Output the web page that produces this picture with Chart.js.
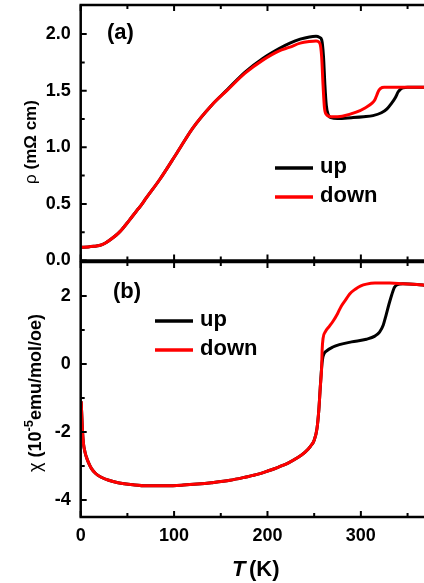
<!DOCTYPE html>
<html>
<head>
<meta charset="utf-8">
<script src="https://cdn.jsdelivr.net/npm/chart.js@4"></script>
<style>
  body { margin: 0; background: #fff; }
  #wrap { position: relative; width: 424px; height: 583px; overflow: hidden; }
  .box { position: absolute; left: 0; width: 424px; }
  #rho-box { top: 0; height: 275px; }
  #chi-box { top: 255px; height: 328px; }
</style>
</head>
<body>
<div id="wrap">
  <div class="box" id="rho-box"><canvas id="rho-chart"></canvas></div>
  <div class="box" id="chi-box"><canvas id="chi-chart"></canvas></div>
</div>
<script>
// (a) resistivity, mOhm cm
const rhoUpT = [1, 8, 14, 20, 26, 32, 42, 52, 60, 64, 70, 85, 103, 120, 140, 157, 176, 195, 212, 224, 235, 245, 252, 256, 258, 260, 261.5, 263, 265, 268, 275, 290, 303, 313, 322, 328, 333, 337, 340, 342, 345, 350, 370];
const rhoUp = [0.117, 0.12, 0.125, 0.132, 0.152, 0.185, 0.255, 0.355, 0.44, 0.48, 0.55, 0.72, 0.95, 1.17, 1.37, 1.51, 1.665, 1.785, 1.87, 1.92, 1.955, 1.975, 1.98, 1.97, 1.95, 1.8, 1.55, 1.37, 1.29, 1.262, 1.255, 1.262, 1.27, 1.28, 1.305, 1.34, 1.39, 1.44, 1.49, 1.51, 1.525, 1.53, 1.53];
const rhoDownT = [1, 8, 14, 20, 26, 32, 42, 52, 60, 64, 70, 85, 103, 120, 140, 157, 176, 195, 212, 224, 235, 245, 252, 256, 258, 259.5, 261, 263, 268, 280, 295, 305, 312, 315, 317, 319, 321, 325, 370];
const rhoDown = [0.117, 0.12, 0.125, 0.132, 0.152, 0.185, 0.255, 0.355, 0.44, 0.48, 0.55, 0.72, 0.95, 1.17, 1.37, 1.505, 1.655, 1.77, 1.85, 1.885, 1.92, 1.935, 1.94, 1.92, 1.8, 1.55, 1.35, 1.29, 1.27, 1.275, 1.31, 1.35, 1.39, 1.42, 1.46, 1.5, 1.52, 1.53, 1.53];

// (b) susceptibility, 10^-5 emu/mol/oe
const chiUpT = [0.5, 1, 2, 3, 4.5, 6, 8, 11.4, 16, 22, 30, 40, 56, 70, 92, 110, 125, 140, 160, 176, 190, 201, 212, 223, 232, 240, 246, 250, 253, 255, 256.5, 258, 259, 260.5, 263, 270, 277, 290, 306, 315, 320, 324, 327, 330, 333, 336, 339, 345, 360, 370];
const chiUp = [-1.1, -1.4, -2.0, -2.35, -2.58, -2.73, -2.88, -3.07, -3.22, -3.33, -3.42, -3.49, -3.55, -3.58, -3.58, -3.56, -3.53, -3.49, -3.42, -3.33, -3.24, -3.14, -3.03, -2.9, -2.76, -2.6, -2.42, -2.24, -1.9, -1.35, -0.7, -0.1, 0.15, 0.3, 0.38, 0.5, 0.57, 0.65, 0.73, 0.82, 0.94, 1.15, 1.44, 1.75, 2.03, 2.26, 2.33, 2.36, 2.34, 2.31];
const chiDownT = [0.5, 1, 2, 3, 4.5, 6, 8, 11.4, 16, 22, 30, 40, 56, 70, 92, 110, 125, 140, 160, 176, 190, 201, 212, 223, 232, 240, 246, 250, 253, 255, 256.5, 258, 258.5, 259.5, 262, 266, 270, 275, 279, 284, 288, 294, 300, 306, 315, 331, 345, 360, 370];
const chiDown = [-1.1, -1.4, -2.0, -2.35, -2.58, -2.73, -2.88, -3.07, -3.22, -3.33, -3.42, -3.49, -3.55, -3.58, -3.58, -3.56, -3.53, -3.49, -3.42, -3.33, -3.24, -3.14, -3.03, -2.9, -2.76, -2.6, -2.42, -2.24, -1.9, -1.35, -0.7, -0.1, 0.4, 0.75, 0.95, 1.1, 1.25, 1.48, 1.7, 1.9, 2.06, 2.2, 2.3, 2.35, 2.38, 2.38, 2.36, 2.34, 2.31];

const tTicks = [0, 100, 200, 300];
const tMinor = [50, 150, 250, 350];
const rhoTicks = [0, 0.5, 1.0, 1.5, 2.0];
const rhoMinor = [0.25, 0.75, 1.25, 1.75];
const chiTicks = [-4, -2, 0, 2];
const chiMinor = [-3, -1, 1];
const seriesNames = ["up", "down"];

const FONT = "'Liberation Sans', Arial, sans-serif";

function points(xs, ys) {
  return xs.map((x, i) => ({ x: x, y: ys[i] }));
}

function dataset(label, xs, ys, color, order) {
  return {
    label: label,
    data: points(xs, ys),
    borderColor: color,
    borderWidth: 3,
    pointRadius: 0,
    cubicInterpolationMode: "monotone",
    order: order,
  };
}

// frame, inward ticks, legend and texts
const framePlugin = {
  id: "frame",
  afterDatasetsDraw(chart, args, o) {
    const ctx = chart.ctx;
    const a = chart.chartArea;
    const x = chart.scales.x;
    const y = chart.scales.y;
    ctx.save();
    ctx.strokeStyle = "#000";
    ctx.lineCap = "butt";
    ctx.lineWidth = 2.5;
    ctx.beginPath();
    ctx.moveTo(chart.width + 2, a.top);
    ctx.lineTo(a.left, a.top);
    ctx.lineTo(a.left, a.bottom);
    ctx.lineTo(chart.width + 2, a.bottom);
    ctx.stroke();

    ctx.lineWidth = 2;
    ctx.beginPath();
    const tick = (vals, len) => {
      vals.forEach((v) => {
        const px = x.getPixelForValue(v);
        ctx.moveTo(px, a.bottom);
        ctx.lineTo(px, a.bottom - len);
        ctx.moveTo(px, a.top);
        ctx.lineTo(px, a.top + len);
      });
    };
    tick(tTicks, 6);
    tick(tMinor, 4);
    o.yMajor.forEach((v) => {
      const py = y.getPixelForValue(v);
      ctx.moveTo(a.left, py);
      ctx.lineTo(a.left + 6, py);
    });
    o.yMinor.forEach((v) => {
      const py = y.getPixelForValue(v);
      ctx.moveTo(a.left, py);
      ctx.lineTo(a.left + 4, py);
    });
    ctx.stroke();

    // panel label
    ctx.fillStyle = "#000";
    ctx.textAlign = "left";
    ctx.textBaseline = "alphabetic";
    ctx.font = "bold 22px " + FONT;
    ctx.fillText(o.panel.text, o.panel.x, o.panel.y);

    // legend
    chart.data.datasets.forEach((ds, i) => {
      const ly = o.legend.y + i * o.legend.gap;
      ctx.strokeStyle = ds.borderColor;
      ctx.lineWidth = 3.5;
      ctx.beginPath();
      ctx.moveTo(o.legend.x, ly);
      ctx.lineTo(o.legend.x + 38, ly);
      ctx.stroke();
      ctx.fillText(ds.label, o.legend.x + 45, ly + 5);
    });

    // y title (rotated, mixed fonts)
    ctx.translate(o.ytitle.x, o.ytitle.y);
    ctx.rotate(-Math.PI / 2);
    let total = 0;
    o.ytitle.parts.forEach((p) => {
      ctx.font = p.font;
      total += ctx.measureText(p.t).width;
    });
    let cx = -total / 2;
    ctx.textBaseline = "middle";
    o.ytitle.parts.forEach((p) => {
      ctx.font = p.font;
      ctx.fillText(p.t, cx, p.dy || 0);
      cx += ctx.measureText(p.t).width;
    });
    ctx.restore();

    if (o.xtitle) {
      ctx.save();
      ctx.fillStyle = "#000";
      ctx.textBaseline = "alphabetic";
      ctx.font = "italic bold 22px " + FONT;
      ctx.fillText("T", o.xtitle.x, o.xtitle.y);
      ctx.font = "bold 22px " + FONT;
      ctx.fillText("(K)", o.xtitle.x + 17, o.xtitle.y);
      ctx.restore();
    }
  },
};

const tickFont = { family: FONT, size: 18, weight: "bold" };

function xAxis(show) {
  return {
    type: "linear",
    min: 0,
    max: 367.6,
    display: show,
    grid: { display: false, drawTicks: false },
    border: { display: false },
    afterBuildTicks: (s) => {
      s.ticks = tTicks.map((v) => ({ value: v }));
    },
    afterFit: (s) => {
      s.height = show ? 66 : 0;
      s.paddingLeft = 0;
      s.paddingRight = 0;
    },
    ticks: {
      color: "#000",
      font: tickFont,
      padding: 8,
      maxRotation: 0,
      callback: (v) => String(v),
    },
  };
}

function yAxis(min, max, ticks, fmt) {
  return {
    type: "linear",
    min: min,
    max: max,
    grid: { display: false, drawTicks: false },
    border: { display: false },
    afterBuildTicks: (s) => {
      s.ticks = ticks.map((v) => ({ value: v }));
    },
    afterFit: (s) => {
      s.width = 80.7;
      s.paddingTop = 0;
      s.paddingBottom = 0;
    },
    ticks: {
      color: "#000",
      font: tickFont,
      padding: 10,
      callback: fmt,
    },
  };
}

new Chart(document.getElementById("rho-chart"), {
  type: "line",
  data: {
    datasets: [
      dataset(seriesNames[0], rhoUpT, rhoUp, "#000000", 1),
      dataset(seriesNames[1], rhoDownT, rhoDown, "#ff0000", 0),
    ],
  },
  options: {
    responsive: true,
    maintainAspectRatio: false,
    animation: false,
    layout: { padding: { left: 0, right: 0, top: 5, bottom: 14.5 } },
    scales: {
      x: xAxis(false),
      y: yAxis(0, 2.257, rhoTicks, (v) => v.toFixed(1)),
    },
    plugins: {
      legend: { display: false },
      tooltip: { enabled: false },
      frame: {
        yMajor: rhoTicks,
        yMinor: rhoMinor,
        panel: { text: "(a)", x: 107, y: 39 },
        legend: { x: 275, y: 168, gap: 29 },
        ytitle: {
          x: 31,
          y: 142,
          parts: [
            { t: "ρ ", font: "17px " + FONT },
            { t: "(mΩ cm)", font: "bold 17px " + FONT },
          ],
        },
      },
    },
  },
  plugins: [framePlugin],
});

new Chart(document.getElementById("chi-chart"), {
  type: "line",
  data: {
    datasets: [
      dataset(seriesNames[0], chiUpT, chiUp, "#000000", 1),
      dataset(seriesNames[1], chiDownT, chiDown, "#ff0000", 0),
    ],
  },
  options: {
    responsive: true,
    maintainAspectRatio: false,
    animation: false,
    layout: { padding: { left: 0, right: 0, top: 7, bottom: 0 } },
    scales: {
      x: xAxis(true),
      y: yAxis(-4.5, 3.0, chiTicks, (v) => String(v)),
    },
    plugins: {
      legend: { display: false },
      tooltip: { enabled: false },
      frame: {
        yMajor: chiTicks,
        yMinor: chiMinor,
        panel: { text: "(b)", x: 113, y: 43 },
        legend: { x: 155, y: 66, gap: 29 },
        ytitle: {
          x: 36,
          y: 138,
          parts: [
            { t: "χ ", font: "18px " + FONT },
            { t: "(10", font: "bold 18px " + FONT },
            { t: "-5", font: "bold 13px " + FONT, dy: -7 },
            { t: "emu/mol/oe)", font: "bold 18px " + FONT },
          ],
        },
        xtitle: { x: 232, y: 321 },
      },
    },
  },
  plugins: [framePlugin],
});
</script>
</body>
</html>
